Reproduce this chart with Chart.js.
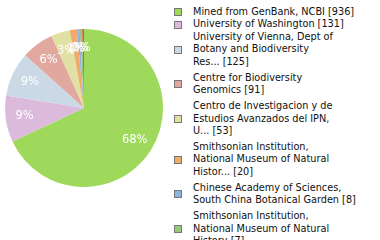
<!DOCTYPE html>
<html><head><meta charset="utf-8">
<script src="https://cdn.jsdelivr.net/npm/chart.js@4"></script>
<style>
html,body{margin:0;padding:0;background:#fff;width:380px;height:240px;overflow:hidden}
#wrap{position:absolute;left:0;top:0;width:168px;height:216px}
#legend{position:absolute;left:173px;top:5.75px;width:207px;font-family:"DejaVu Sans Condensed","DejaVu Sans";font-stretch:condensed;font-size:10.8px;color:#111;}
.ent{position:relative;padding-left:20px;line-height:12.5px}
.ent.multi{padding-bottom:3.4px}
.sw{position:absolute;left:1px;width:6px;height:6px;border:1px solid #777}
</style></head><body>
<div id="wrap"><canvas id="c"></canvas></div>
<div id="legend"></div>
<script>
const categories = [
  ["Mined from GenBank, NCBI [936]"],
  ["University of Washington [131]"],
  ["University of Vienna, Dept of","Botany and Biodiversity","Res... [125]"],
  ["Centre for Biodiversity","Genomics [91]"],
  ["Centro de Investigacion y de","Estudios Avanzados del IPN,","U... [53]"],
  ["Smithsonian Institution,","National Museum of Natural","Histor... [20]"],
  ["Chinese Academy of Sciences,","South China Botanical Garden [8]"],
  ["Smithsonian Institution,","National Museum of Natural","History [7]"],
  ["Other [5]"]
];
const values = [936, 131, 125, 91, 53, 20, 8, 7, 5];
const colors = ["#9fd95b","#dcbadc","#cad9e5","#e0a89f","#e0e1a2","#f0ab6c","#92b4dc","#98c87a","#d9534f"];

const total = values.reduce((a,b)=>a+b,0);
const lg = document.getElementById('legend');
categories.slice(0,8).forEach((lines,i)=>{
  const d=document.createElement('div');
  d.className='ent'+(lines.length>1?' multi':'');
  const s=document.createElement('span');s.className='sw';s.style.background=colors[i];
  s.style.top=(lines.length*12.5/2-4)+'px';
  d.appendChild(s);
  lines.forEach((t,k)=>{ if(k) d.appendChild(document.createElement('br')); d.appendChild(document.createTextNode(t)); });
  lg.appendChild(d);
});

const pctPlugin = {
  id:'pct',
  afterDatasetsDraw(chart){
    const ctx=chart.ctx; const meta=chart.getDatasetMeta(0);
    ctx.save();
    ctx.font='11.5px "DejaVu Sans"'; ctx.fillStyle='#fff';
    ctx.textAlign='center'; ctx.textBaseline='middle';
    meta.data.forEach((arc,i)=>{
      const p=Math.floor(values[i]/total*100);
      if(i>=8) return;
      const mid=(arc.startAngle+arc.endAngle)/2;
      const r=arc.outerRadius*0.76;
      ctx.fillText(p+'%', arc.x+Math.cos(mid)*r, arc.y+Math.sin(mid)*r);
    });
    ctx.restore();
  }
};

new Chart(document.getElementById('c'),{
  type:'pie',
  data:{labels:categories.map(l=>l.join(' ')),datasets:[{data:values,backgroundColor:colors,borderWidth:0}]},
  options:{responsive:true,maintainAspectRatio:false,animation:false,
    layout:{padding:{top:29,bottom:29,left:5,right:5}},
    plugins:{legend:{display:false},tooltip:{enabled:false}}},
  plugins:[pctPlugin]
});
</script></body></html>
